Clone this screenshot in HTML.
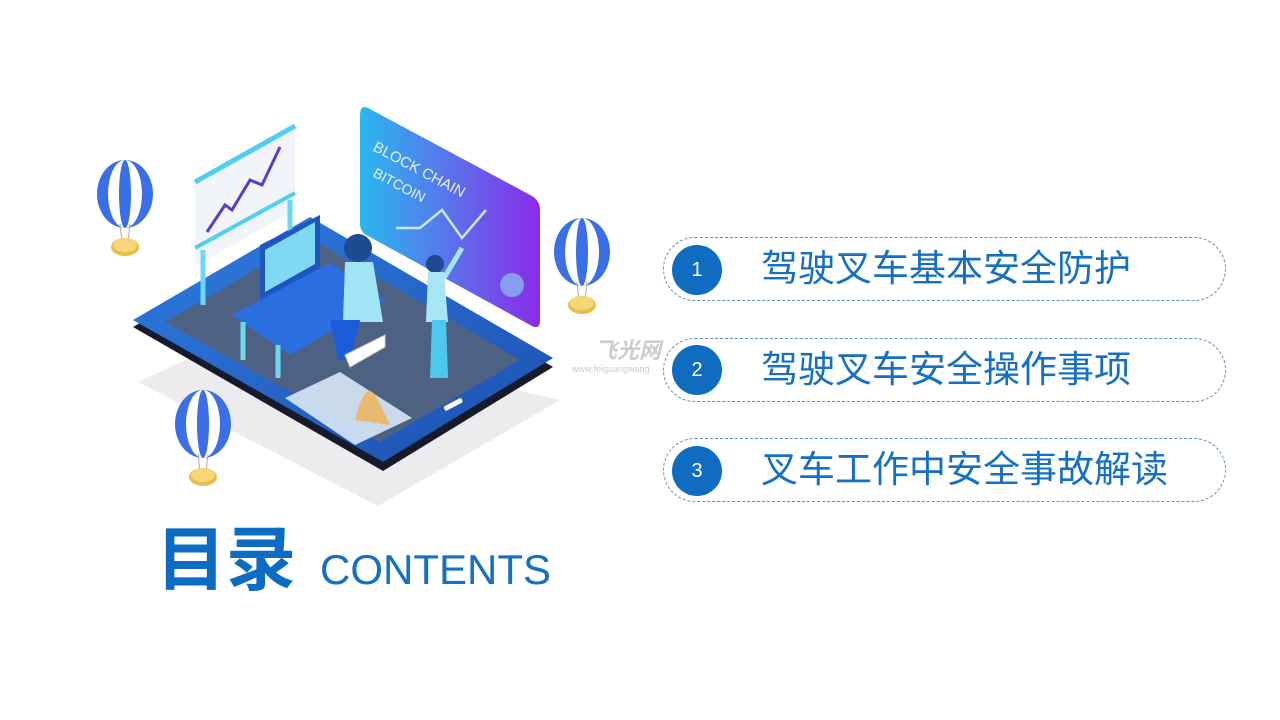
<!DOCTYPE html>
<html><head><meta charset="utf-8"><style>
body{margin:0;width:1280px;height:720px;background:#fff;position:relative;overflow:hidden;font-family:"Liberation Sans","Noto Sans CJK SC",sans-serif}
.pill{position:absolute;left:663px;width:563px;height:64px;border:1.5px dashed #6b8fb8;border-radius:32px;box-sizing:border-box}
.num{position:absolute;left:672px;width:50px;height:50px;border-radius:50%;background:#0f6cc0;color:#fff;font-size:20px;line-height:50px;text-align:center}
.txt{position:absolute;left:761px;font-size:37px;color:#1570c4;line-height:40px;letter-spacing:0}
</style></head><body>
<svg width="1280" height="720" style="position:absolute;left:0;top:0">
<defs>
<linearGradient id="g1" x1="0" y1="0" x2="1" y2="0"><stop offset="0" stop-color="#2ab8ee"/><stop offset="1" stop-color="#8a2be8"/></linearGradient>
<linearGradient id="g2" x1="0" y1="0" x2="1" y2="1"><stop offset="0" stop-color="#2e7de0"/><stop offset="1" stop-color="#1c4fb0"/></linearGradient>
<g id="b"><ellipse cx="0" cy="0" rx="28" ry="34" fill="#3a6fe8"/><ellipse cx="0" cy="0" rx="17" ry="34" fill="#fff"/><ellipse cx="0" cy="0" rx="6" ry="34" fill="#3a6fe8"/><line x1="-5" y1="30" x2="-3" y2="48" stroke="#aaa"/><line x1="5" y1="30" x2="3" y2="48" stroke="#aaa"/><ellipse cx="0" cy="53" rx="14" ry="9" fill="#e9bd4a"/><ellipse cx="0" cy="51" rx="12" ry="7" fill="#f5d77a"/></g>
</defs>
<polygon points="138,382 250,330 560,400 378,506" fill="#ececee"/>
<polygon points="133,327 310,224 553,367 383,471" fill="#161a2a"/>
<polygon points="133,320 310,217 553,358 383,462" fill="url(#g2)"/>
<polygon points="165,322 310,238 520,360 380,442" fill="#4d6283"/>
<rect x="443" y="402" width="20" height="5" rx="2" fill="#fff" transform="rotate(-28 453 404)"/>
<polygon points="285,398 340,372 412,418 355,445" fill="#d8e8f6" opacity=".9"/>
<path d="M355,420 q10,-40 20,-25 q8,15 15,30z" fill="#f0b050" opacity=".8"/>
<polygon points="195,182 295,126 295,210 195,266" fill="#f1f5f9"/>
<line x1="195" y1="182" x2="295" y2="126" stroke="#4fd0f0" stroke-width="5"/>
<line x1="195" y1="248" x2="295" y2="193" stroke="#4fd0f0" stroke-width="4"/>
<line x1="203" y1="250" x2="203" y2="305" stroke="#6cd8f0" stroke-width="5"/>
<line x1="290" y1="200" x2="290" y2="240" stroke="#6cd8f0" stroke-width="5"/>
<polyline points="207,232 225,205 232,210 250,180 262,185 280,147" fill="none" stroke="#5a3cc8" stroke-width="3"/>
<path d="M368,108 L532,196 Q540,201 540,210 L540,320 Q540,330 532,326 L368,236 Q360,232 360,224 L360,116 Q360,104 368,108z" fill="url(#g1)"/>
<text x="372" y="150" fill="#e6f0ff" font-size="15" font-family="Liberation Sans" transform="rotate(28 372 150)">BLOCK CHAIN</text>
<text x="372" y="176" fill="#e6f0ff" font-size="14" font-family="Liberation Sans" transform="rotate(28 372 176)">BITCOIN</text>
<polyline points="396,228 420,228 442,210 462,238 486,210" fill="none" stroke="#c8e8ff" stroke-width="2.5"/>
<circle cx="512" cy="285" r="12" fill="#8a9cf0"/>
<polygon points="260,245 320,215 320,270 260,300" fill="#1e56c0"/>
<polygon points="265,250 315,222 315,264 265,292" fill="#7fd8f6"/>
<polygon points="232,315 330,263 385,300 290,355" fill="#2a6ee0"/>
<line x1="243" y1="322" x2="243" y2="360" stroke="#6cd8f0" stroke-width="5"/>
<line x1="278" y1="345" x2="278" y2="378" stroke="#6cd8f0" stroke-width="5"/>
<circle cx="358" cy="248" r="14" fill="#1d4a90"/>
<path d="M345,262 h28 l10,60 h-40z" fill="#a0e4f6"/>
<path d="M330,320 l30,0 l-10,40 l-12,0z" fill="#1b5cd8"/>
<path d="M345,355 l40,-20 l0,12 l-35,20z" fill="#fff" stroke="#ccc"/>
<circle cx="435" cy="264" r="9" fill="#1d4a90"/>
<path d="M428,272 h16 l4,50 h-22z" fill="#a8e6f6"/>
<path d="M432,320 h14 l2,58 h-18z" fill="#4cc8ee"/>
<line x1="444" y1="278" x2="462" y2="248" stroke="#a8e6f6" stroke-width="5"/>
<use href="#b" x="125" y="194"/>
<use href="#b" x="582" y="252"/>
<use href="#b" x="203" y="424"/>
<text x="595" y="358" fill="#ccc" font-size="22" font-style="italic" font-weight="bold" font-family="Noto Sans CJK SC">飞光网</text>
<text x="572" y="372" fill="#ccc" font-size="9" font-family="Liberation Sans">www.feiguangwang</text>
</svg>
<div class="pill" style="top:237px"></div>
<div class="pill" style="top:338px"></div>
<div class="pill" style="top:438px"></div>
<div class="num" style="top:245px">1</div>
<div class="num" style="top:345px">2</div>
<div class="num" style="top:446px">3</div>
<div class="txt" style="top:249px">驾驶叉车基本安全防护</div>
<div class="txt" style="top:350px">驾驶叉车安全操作事项</div>
<div class="txt" style="top:450px">叉车工作中安全事故解读</div>
<div style="position:absolute;left:156px;top:510px;font-size:70px;font-weight:bold;color:#0c6bc2;line-height:90px;font-family:'Noto Sans CJK SC',sans-serif">目录</div>
<div style="position:absolute;left:320px;top:545px;font-size:42px;color:#1570c4;line-height:50px">CONTENTS</div>
</body></html>
